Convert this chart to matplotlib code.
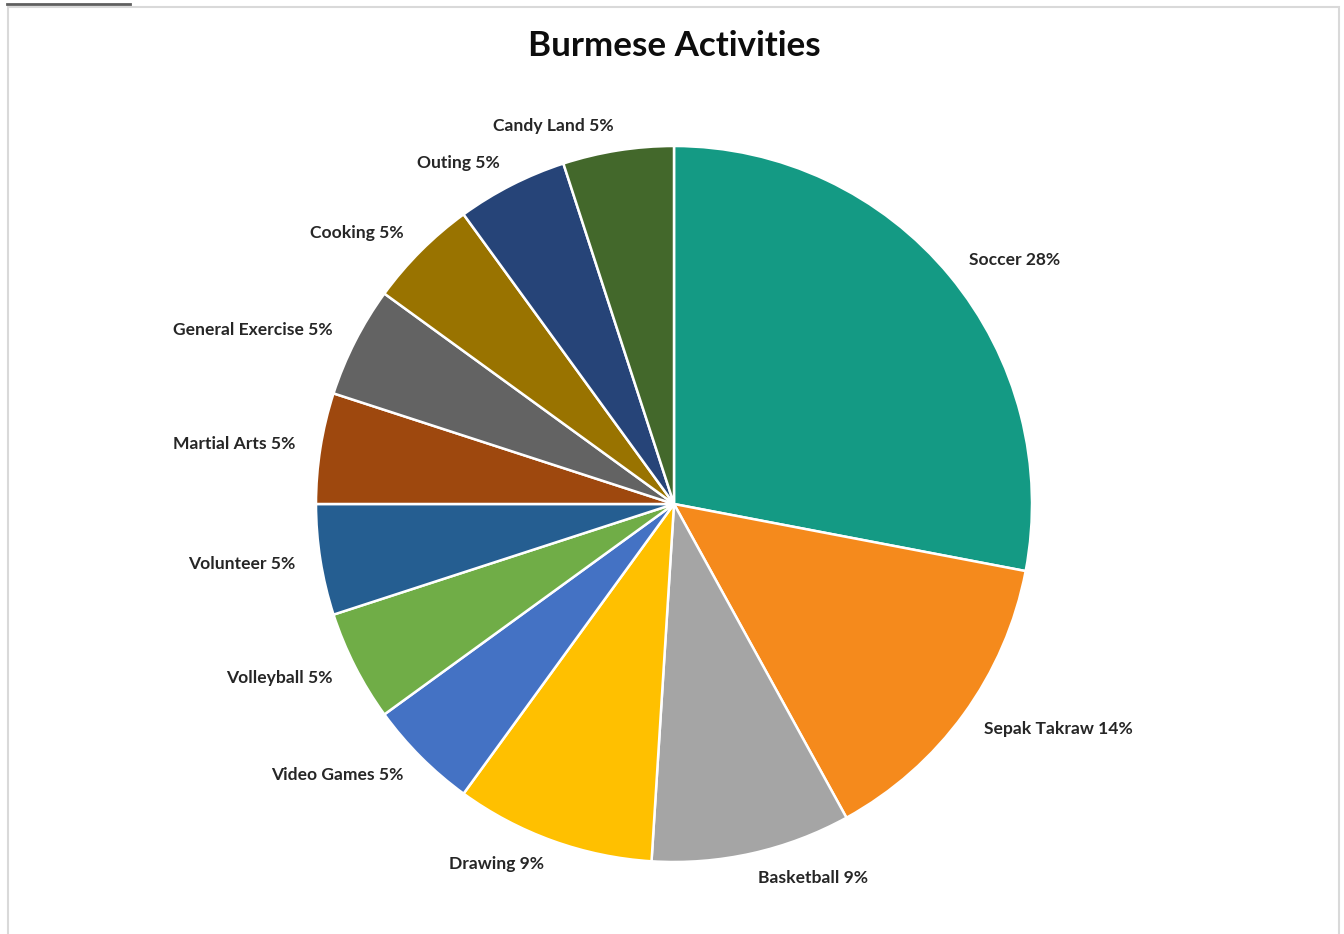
import matplotlib.pyplot as plt
from matplotlib.patches import Rectangle
from matplotlib.lines import Line2D

# activity shares (percent), clockwise from 12 o'clock
activities = ["Soccer", "Sepak Takraw", "Basketball", "Drawing", "Video Games",
              "Volleyball", "Volunteer", "Martial Arts", "General Exercise",
              "Cooking", "Outing", "Candy Land"]
shares = [28, 14, 9, 9, 5, 5, 5, 5, 5, 5, 5, 5]
colors = ["#149A84", "#F58A1C", "#A5A5A5", "#FFC000", "#4472C4", "#70AD47",
          "#255E91", "#9E480E", "#636363", "#997300", "#264478", "#43682B"]

plt.rcParams['font.family'] = ['Lato', 'DejaVu Sans']

W, H = 1344, 934
fig = plt.figure(figsize=(W / 100, H / 100), dpi=100)

# chart area frame + the little dark bar above it
fig.patches.append(Rectangle((8 / W, -0.01), (1339 - 8) / W, (H - 7) / H + 0.01,
                             transform=fig.transFigure, fill=False,
                             edgecolor="#D9D9D9", linewidth=1.5))
fig.lines.append(Line2D([7 / W, 130 / W], [1 - 4 / H, 1 - 4 / H],
                        transform=fig.transFigure, color="#5F5F5F", linewidth=2))

cx, cy, r = 674, 504, 358
ax = fig.add_axes([(cx - r) / W, (H - cy - r) / H, 2 * r / W, 2 * r / H])

labels = [f"{a} {s}%" for a, s in zip(activities, shares)]
wedges, texts = ax.pie(shares, labels=labels, colors=colors, startangle=90,
                       counterclock=False, labeldistance=1.07,
                       wedgeprops=dict(edgecolor="white", linewidth=1.8),
                       textprops=dict(fontsize=12.6, fontweight="bold",
                                      color="#262626"))
ax.set_xlim(-1, 1)
ax.set_ylim(-1, 1)
ax.set_aspect("equal")

fig.text(cx / W, 1 - 46 / H, "Burmese Activities", ha="center", va="center",
         fontsize=25.2, fontweight="bold", color="#0D0D0D")

fig.savefig("out.png", dpi=100)
